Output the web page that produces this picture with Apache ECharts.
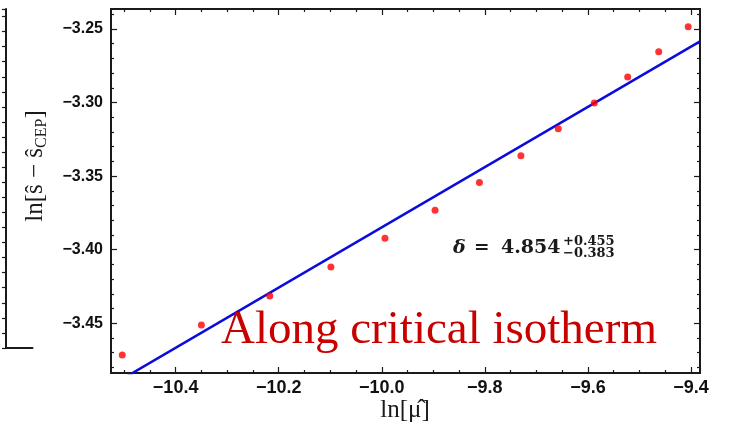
<!DOCTYPE html>
<html><head><meta charset="utf-8">
<script src="https://cdn.jsdelivr.net/npm/echarts@6/dist/echarts.min.js"></script>
<style>html,body{margin:0;padding:0;background:#fff}#c{width:732px;height:431px}</style>
</head><body><div id="c"></div>
<script>
// ---- data ----
const lnMu = [-10.5036, -10.350, -10.2173, -10.0987, -9.9938, -9.8966, -9.8105, -9.730, -9.6575, -9.5876, -9.5228, -9.4626, -9.4054];
const lnS  = [-3.4716, -3.4512, -3.4314, -3.4117, -3.3922, -3.3731, -3.3544, -3.3362, -3.3178, -3.3003, -3.2827, -3.2654, -3.2484];
const fitX = [-10.53, -9.3825];
const fitY = [-3.4933, -3.2584];
const xRange = [-10.5254, -9.3825];
const yRange = [-3.4838, -3.2364];
const xMajorTicks = [-10.4, -10.2, -10.0, -9.8, -9.6, -9.4];
const xMinorTicks = [-10.5, -10.45, -10.35, -10.3, -10.25, -10.15, -10.1, -10.05, -9.95, -9.9, -9.85, -9.75, -9.7, -9.65, -9.55, -9.5, -9.45];
const yMajorTicks = [-3.45, -3.40, -3.35, -3.30, -3.25];
const yMinorTicks = [-3.48, -3.47, -3.46, -3.44, -3.43, -3.42, -3.41, -3.39, -3.38, -3.37, -3.36, -3.34, -3.33, -3.32, -3.31, -3.29, -3.28, -3.27, -3.26, -3.24];
const xTitle = 'ln[μ̂]';
const deltaText = ['δ', '=', '4.854', '+0.455', '−0.383'];
const caption = 'Along critical isotherm';

const minus = s => s.replace('-', '\u2212');
const frameColor = '#1a1a1a';
const lineStyle = {color: frameColor, width: 2};

function xAx(pos, ticks, len, labels) {
  return {
    gridIndex: 0, type: 'value', position: pos, min: xRange[0], max: xRange[1],
    axisLine: {show: true, lineStyle}, splitLine: {show: false},
    axisTick: {show: true, inside: true, length: len, customValues: ticks, lineStyle: {color: frameColor, width: 1.2}},
    axisLabel: labels ? {show: true, customValues: ticks, margin: 6, color: '#111', fontSize: 18, fontWeight: 'bold',
      fontFamily: 'Liberation Sans', formatter: v => minus(v.toFixed(1))} : {show: false}
  };
}
function yAx(pos, ticks, len, labels) {
  return {
    gridIndex: 0, type: 'value', position: pos, min: yRange[0], max: yRange[1],
    axisLine: {show: true, lineStyle}, splitLine: {show: false},
    axisTick: {show: true, inside: true, length: len, customValues: ticks, lineStyle: {color: frameColor, width: 1.2}},
    axisLabel: labels ? {show: true, customValues: ticks, margin: 8, color: '#111', fontSize: 16, fontWeight: 'bold',
      fontFamily: 'Liberation Sans', formatter: v => minus(v.toFixed(2))} : {show: false}
  };
}

const chart = echarts.init(document.getElementById('c'), null, {renderer: 'canvas'});
chart.setOption({
  animation: false,
  backgroundColor: '#fff',
  grid: [
    {left: 111, right: 32, top: 9, bottom: 58, containLabel: false},
    {left: -100, right: 726, top: 9, bottom: 83, containLabel: false}
  ],
  xAxis: [
    xAx('bottom', xMajorTicks, 6, true),
    xAx('bottom', xMinorTicks, 3, false),
    xAx('top', xMajorTicks, 6, false),
    xAx('top', xMinorTicks, 3, false),
    {gridIndex: 1, type: 'value', position: 'bottom', min: 0, max: 1,
     axisLine: {show: true, lineStyle}, axisTick: {show: false}, axisLabel: {show: false}, splitLine: {show: false}}
  ],
  yAxis: [
    yAx('left', yMajorTicks, 6, true),
    yAx('left', yMinorTicks, 3, false),
    yAx('right', yMajorTicks, 6, false),
    yAx('right', yMinorTicks, 3, false),
    {gridIndex: 1, type: 'value', position: 'right', min: 0, max: 22.5, interval: 1,
     axisLine: {show: true, lineStyle}, axisTick: {show: true, inside: true, length: 4, lineStyle: {color: frameColor, width: 1.2}},
     axisLabel: {show: false}, splitLine: {show: false}}
  ],
  series: [
    {type: 'line', xAxisIndex: 0, yAxisIndex: 0, data: fitX.map((x, i) => [x, fitY[i]]),
     showSymbol: false, symbol: 'none', clip: true, lineStyle: {color: '#0b0bdc', width: 2.5}, z: 2},
    {type: 'scatter', xAxisIndex: 0, yAxisIndex: 0, data: lnMu.map((x, i) => [x, lnS[i]]),
     symbol: 'circle', symbolSize: 7, itemStyle: {color: '#ff0000'}, z: 3}
  ],
  graphic: [
    {type: 'text', x: 35, y: 166, rotation: Math.PI / 2, z: 10,
     style: {text: '{a|ln[ŝ − ŝ}{b|CEP}{a|]}', align: 'center', verticalAlign: 'middle',
       rich: {a: {fontSize: 25, fontFamily: 'Liberation Serif', fill: '#1a1a1a', lineHeight: 30},
              b: {fontSize: 16, fontFamily: 'Liberation Serif', fill: '#1a1a1a', verticalAlign: 'bottom', lineHeight: 16}}}},
    {type: 'text', x: 405, y: 410, z: 10,
     style: {text: xTitle, align: 'center', verticalAlign: 'middle', fontSize: 25, fontFamily: 'Liberation Serif', fill: '#1a1a1a'}},
    {type: 'text', x: 453, y: 248, z: 10,
     style: {text: deltaText[0], align: 'left', verticalAlign: 'middle', fontSize: 19, fontStyle: 'italic', fontWeight: 'bold', fontFamily: 'DejaVu Serif', fill: '#1a1a1a'}},
    {type: 'text', x: 474, y: 248, z: 10,
     style: {text: deltaText[1], align: 'left', verticalAlign: 'middle', fontSize: 18.5, fontWeight: 'bold', fontFamily: 'DejaVu Serif', fill: '#1a1a1a'}},
    {type: 'text', x: 501, y: 248, z: 10,
     style: {text: deltaText[2], align: 'left', verticalAlign: 'middle', fontSize: 19, fontWeight: 'bold', fontFamily: 'DejaVu Serif', fill: '#1a1a1a'}},
    {type: 'text', x: 563, y: 247.5, z: 10,
     style: {text: deltaText[3] + '\n' + deltaText[4], align: 'left', verticalAlign: 'middle', lineHeight: 11.5, fontSize: 13, fontWeight: 'bold', fontFamily: 'DejaVu Serif', fill: '#1a1a1a'}},
    {type: 'text', x: 221, y: 331, z: 10,
     style: {text: caption, align: 'left', verticalAlign: 'middle', fontSize: 47, fontFamily: 'Liberation Serif', fill: '#c80000'}}
  ]
});
</script></body></html>
